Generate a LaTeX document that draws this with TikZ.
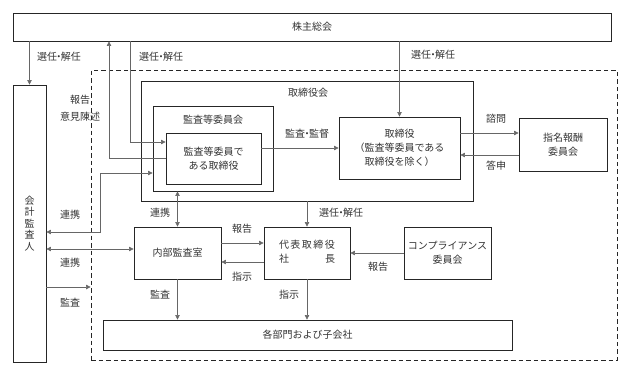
\documentclass[tikz,border=0pt]{standalone}
\usepackage{fontspec}
\setmainfont{Noto Sans CJK JP}
\usetikzlibrary{arrows.meta, positioning}
\newcommand{\dotsep}{\kern-0.3em・\kern-0.3em}

\begin{document}
\begin{tikzpicture}[
  x=1pt, y=-1pt,
  font=\fontsize{10}{14}\selectfont,
  box/.style={
    draw=black!85,
    text=black!80,
    line width=0.9pt,
    inner sep=0pt,
    align=center
  },
  lbl/.style={
    text=black!80,
    inner sep=1pt,
    align=center
  },
  arr/.style={
    draw=black!60,
    line width=0.6pt,
    -{Triangle[length=4.5pt,width=4.5pt]}
  },
  arrboth/.style={
    draw=black!60,
    line width=0.6pt,
    {Triangle[length=4.5pt,width=4.5pt]}-{Triangle[length=4.5pt,width=4.5pt]}
  }
]

\useasboundingbox (0,0) rectangle (635,373);

% Company boundary
\node[
  draw=black!85,
  line width=0.8pt,
  dash pattern=on 4.5pt off 3pt,
  minimum width=526pt,
  minimum height=290pt
] (group) at (354,215) {};

% ---------------- Top and left ----------------
\node[box, minimum width=598pt, minimum height=28pt] (shareholders) at (312,27) {株主総会};
\node[box, minimum width=33pt, minimum height=277pt,
  font=\fontsize{10}{11.5}\selectfont] (auditor) at (29.5,223.5) {会\\計\\監\\査\\人};

% ---------------- Board ----------------
\node[box, minimum width=332pt, minimum height=120pt] (board) at (307,141) {};
\node[lbl] (boardtitle) at (308,93) {取締役会};

\node[box, minimum width=120pt, minimum height=85pt] (auditcom) at (213,148.5) {};
\node[lbl] (auditcomtitle) at (213,120) {監査等委員会};
\node[box, minimum width=95pt, minimum height=51pt] (auditdir) at (213.5,158.5)
  {監査等委員で\\ある取締役};

\node[box, minimum width=121pt, minimum height=62pt] (directors) at (399.5,148)
  {取締役\\（監査等委員である\\取締役を除く）};
\node[box, minimum width=88pt, minimum height=53pt] (nomcom) at (563,144.5)
  {指名報酬\\委員会};

% ---------------- Execution ----------------
\node[box, minimum width=87pt, minimum height=52pt] (internal) at (177.5,253) {内部監査室};
\node[box, minimum width=86pt, minimum height=52pt] (president) at (307,253)
  {\begin{tabular}{@{}l@{}}代\kern0.15em 表\kern0.15em 取\kern0.15em 締\kern0.15em 役\\社\hspace{3.6em}長\end{tabular}};
\node[box, minimum width=87pt, minimum height=52pt] (compliance) at (447.5,253)
  {コンプライアンス\\委員会};
\node[box, minimum width=409pt, minimum height=30pt] (divisions) at (307.5,335)
  {各部門および子会社};

% Bend points
\coordinate (upbend) at (109,0);
\coordinate (selbend) at (130,142);
\coordinate (linkbend) at (100,173);
\coordinate (linklow) at (100,232);
\coordinate (linkmid) at (0,249);
\coordinate (auditrow) at (0,287);
\coordinate (reprow) at (0,243);
\coordinate (insrow) at (0,262);
\coordinate (askrow) at (0,133);
\coordinate (ansrow) at (0,155);

% ---------------- Connectors ----------------
\draw[arr] (auditor.north |- shareholders.south) -- (auditor.north);
\draw[arr] (auditdir.west) -| (shareholders.south -| upbend);
\draw[arr] (shareholders.south -| selbend) |- (auditdir.west |- selbend);
\draw[arr] (shareholders.south -| directors.north) -- (directors.north);

\draw[arrboth] (auditor.east |- linklow) -- (linklow) -- (linkbend) -- (auditcom.west |- linkbend);
\draw[arrboth] (auditor.east |- linkmid) -- (internal.west |- linkmid);
\draw[arr] (auditor.east |- auditrow) -- (group.west |- auditrow);

\draw[arr] (auditdir.east |- directors.west) -- (directors.west);
\draw[arr] (directors.east |- askrow) -- (nomcom.west |- askrow);
\draw[arr] (nomcom.west |- ansrow) -- (directors.east |- ansrow);

\draw[arrboth] (auditcom.south -| internal.north) -- (internal.north);
\draw[arr] (board.south -| president.north) -- (president.north);
\draw[arr] (internal.east |- reprow) -- (president.west |- reprow);
\draw[arr] (president.west |- insrow) -- (internal.east |- insrow);
\draw[arr] (compliance.west) -- (president.east);
\draw[arr] (internal.south) -- (divisions.north -| internal.south);
\draw[arr] (president.south) -- (divisions.north -| president.south);

% ---------------- Labels ----------------
\node[lbl] (lblelect1) at (59,57) {選任\dotsep 解任};
\node[lbl] (lblelect2) at (161,57) {選任\dotsep 解任};
\node[lbl] (lblelect3) at (433,55) {選任\dotsep 解任};
\node[lbl, font=\fontsize{10}{17}\selectfont] (lblreport1) at (80,108) {報告\\意見陳述};
\node[lbl] (lblsuper) at (307,134) {監査\dotsep 監督};
\node[lbl] (lblask) at (496,119) {諮問};
\node[lbl] (lblanswer) at (496,166) {答申};
\node[lbl] (lbllink1) at (70,215) {連携};
\node[lbl] (lbllink2) at (70,263) {連携};
\node[lbl] (lblaudit1) at (70,303) {監査};
\node[lbl] (lbllink3) at (160,213) {連携};
\node[lbl] (lblelect4) at (341,213) {選任\dotsep 解任};
\node[lbl] (lblreport2) at (242,229) {報告};
\node[lbl] (lblorder1) at (242,277) {指示};
\node[lbl] (lblreport3) at (378,267) {報告};
\node[lbl] (lblaudit2) at (160,295) {監査};
\node[lbl] (lblorder2) at (289,295) {指示};

\end{tikzpicture}
\end{document}
